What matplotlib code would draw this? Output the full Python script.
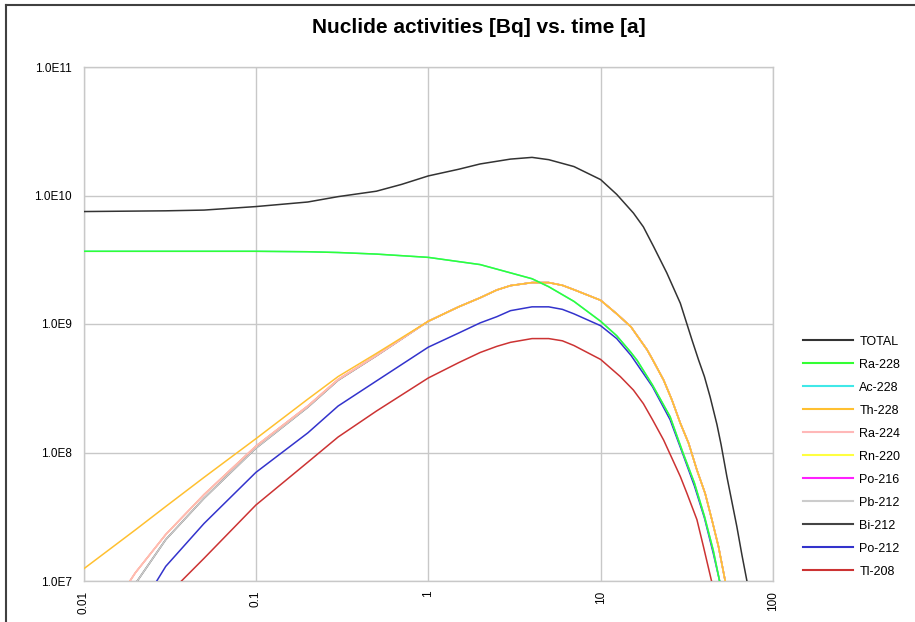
import numpy as np
import matplotlib
matplotlib.use("Agg")
import matplotlib.pyplot as plt
from matplotlib.ticker import FixedLocator, NullLocator
from matplotlib.lines import Line2D

plt.rcParams["font.family"] = ["Liberation Sans", "DejaVu Sans"]

# values (time in years, activity in Bq)
t_total = [0.01, 0.03, 0.05, 0.1, 0.2, 0.3, 0.5, 0.7, 1, 1.5, 2, 3, 4, 5, 7, 10, 12.4, 15.5,
           17.7, 20.3, 24.2, 29, 33.9, 37, 40, 43.2, 47.3, 50, 54, 61.7, 66, 70.6]
a_total = [7.5e9, 7.6e9, 7.7e9, 8.2e9, 8.9e9, 9.8e9, 1.08e10, 1.22e10, 1.42e10, 1.6e10,
           1.76e10, 1.92e10, 1.98e10, 1.9e10, 1.68e10, 1.33e10, 1.02e10, 7.3e9, 5.7e9, 4.0e9, 2.5e9,
           1.45e9, 7.5e8, 5.25e8, 3.9e8, 2.7e8, 1.65e8, 1.15e8, 6.5e7, 2.65e7, 1.6e7, 1.0e7]

t_ra228 = [0.01, 0.1, 0.2, 0.3, 0.5, 1, 2, 3, 4, 5, 7, 10, 12.4, 15, 16.3, 20, 25.3, 30, 35, 40, 45, 49]
a_ra228 = [3.68e9, 3.68e9, 3.65e9, 3.6e9, 3.5e9, 3.3e9, 2.9e9, 2.5e9, 2.25e9, 1.95e9, 1.5e9, 1.05e9,
           8.1e8, 6.0e8, 5.2e8, 3.35e8, 1.9e8, 1.0e8, 5.8e7, 3.2e7, 1.74e7, 1.0e7]
# Ac-228 lies under Ra-228 in the picture
t_ac228 = list(t_ra228)
a_ac228 = list(a_ra228)

t_th228 = [0.01, 0.02, 0.03, 0.05, 0.1, 0.2, 0.3, 0.5, 1, 1.5, 2, 2.5, 3, 4, 5, 6, 7, 10, 12.4, 15,
           16.2, 18.6, 20, 23.2, 25.9, 29, 32.4, 36.2, 40.4, 44.2, 48.3, 52.8]
a_th228 = [1.24e7, 2.5e7, 3.8e7, 6.4e7, 1.28e8, 2.6e8, 3.9e8, 5.9e8, 1.05e9, 1.36e9, 1.6e9, 1.84e9,
           1.99e9, 2.1e9, 2.1e9, 2.0e9, 1.85e9, 1.53e9, 1.2e9, 9.5e8, 8.2e8, 6.3e8, 5.3e8, 3.66e8,
           2.57e8, 1.69e8, 1.18e8, 7.3e7, 4.8e7, 3.0e7, 1.85e7, 1.0e7]

# Ra-224 (Rn-220, Po-216 hidden beneath it); merges with Th-228 from t = 1
t_ra224 = [0.0186, 0.02, 0.03, 0.05, 0.1, 0.2, 0.3, 0.5] + t_th228[8:]
a_ra224 = [1.0e7, 1.16e7, 2.3e7, 4.7e7, 1.12e8, 2.3e8, 3.7e8, 5.7e8] + a_th228[8:]

# Pb-212 (Bi-212 hidden beneath it); merges with Th-228 from t = 1
t_pb212 = [0.0205, 0.03, 0.05, 0.1, 0.2, 0.3, 0.5] + t_th228[8:]
a_pb212 = [1.0e7, 2.1e7, 4.4e7, 1.08e8, 2.25e8, 3.65e8, 5.65e8] + a_th228[8:]

t_po212 = [0.0266, 0.03, 0.05, 0.1, 0.2, 0.3, 0.5, 1, 1.5, 2, 2.5, 3, 4, 5, 6, 7, 10, 12.4, 15, 20,
           25.3, 30, 35, 40, 45, 49]
a_po212 = [1.0e7, 1.3e7, 2.8e7, 7.0e7, 1.42e8, 2.3e8, 3.6e8, 6.6e8, 8.5e8, 1.02e9, 1.14e9, 1.27e9,
           1.36e9, 1.36e9, 1.3e9, 1.2e9, 9.7e8, 7.7e8, 5.7e8, 3.25e8, 1.8e8, 9.7e7, 5.5e7, 3.1e7,
           1.65e7, 1.0e7]

t_tl208 = [0.037, 0.05, 0.1, 0.2, 0.3, 0.5, 1, 1.5, 2, 2.5, 3, 4, 5, 6, 7, 10, 13, 15.5, 17.7, 20,
           23.2, 29, 31.7, 36.2, 39.5, 44]
a_tl208 = [1.0e7, 1.5e7, 3.9e7, 8.4e7, 1.32e8, 2.1e8, 3.8e8, 5.0e8, 6.0e8, 6.7e8, 7.2e8, 7.7e8,
           7.7e8, 7.4e8, 6.8e8, 5.3e8, 3.9e8, 3.06e8, 2.4e8, 1.8e8, 1.25e8, 6.5e7, 4.8e7, 3.0e7,
           1.85e7, 1.0e7]

nuclides = ["TOTAL", "Ra-228", "Ac-228", "Th-228", "Ra-224", "Rn-220",
            "Po-216", "Pb-212", "Bi-212", "Po-212", "Tl-208"]
series = [(t_total, a_total), (t_ra228, a_ra228), (t_ac228, a_ac228), (t_th228, a_th228),
          (t_ra224, a_ra224), (t_ra224, a_ra224), (t_ra224, a_ra224), (t_pb212, a_pb212),
          (t_pb212, a_pb212), (t_po212, a_po212), (t_tl208, a_tl208)]
colors = ["#333333", "#33ff33", "#40e8e8", "#ffc030", "#ffb8b8", "#ffff40",
          "#ff20ff", "#cccccc", "#444444", "#3333cc", "#cc3333"]

x_ticks = [0.01, 0.1, 1, 10, 100]
x_labels = ["0.01", "0.1", "1", "10", "100"]
y_ticks = [1e7, 1e8, 1e9, 1e10, 1e11]
y_labels = ["1.0E7", "1.0E8", "1.0E9", "1.0E10", "1.0E11"]

fig = plt.figure(figsize=(9.15, 6.22), dpi=100)
ax = fig.add_axes([83.5 / 915, 1 - 581 / 622, (773 - 83.5) / 915, (581 - 67) / 622])

n = len(nuclides)
for i, (name, (t, a), c) in enumerate(zip(nuclides, series, colors)):
    ax.plot(t, a, color=c, lw=1.1, label=name, zorder=3 + (n - i))

ax.set_xscale("log")
ax.set_yscale("log")
ax.set_xlim(0.01, 100)
ax.set_ylim(1e7, 1e11)
ax.xaxis.set_major_locator(FixedLocator(x_ticks))
ax.yaxis.set_major_locator(FixedLocator(y_ticks))
ax.xaxis.set_minor_locator(NullLocator())
ax.yaxis.set_minor_locator(NullLocator())
ax.set_xticklabels(x_labels, rotation=90, fontsize=8.5)
ax.set_yticklabels(y_labels, fontsize=8.5)
ax.tick_params(length=0)
ax.tick_params(axis="y", pad=8.5)
ax.tick_params(axis="x", pad=7)
ax.grid(True, color="#c8c8c8", lw=1)
for s in ax.spines.values():
    s.set_color("#c8c8c8")
    s.set_linewidth(1)

fig.text(479 / 915, 1 - 33.3 / 622, "Nuclide activities [Bq] vs. time [a]",
         ha="center", va="baseline", fontsize=15, fontweight="bold")

handles = [Line2D([0], [0], color=c, lw=1.5) for c in colors]
fig.legend(handles, nuclides, loc="center left", bbox_to_anchor=(803 / 915, 1 - 456.7 / 622),
           frameon=False, fontsize=9, handlelength=4.0, handletextpad=0.5,
           labelspacing=0.88, borderpad=0, borderaxespad=0)

# window frame visible on the top and left edges
fig.add_artist(Line2D([6 / 915, 6 / 915], [0, 1 - 5 / 622], color="#404040", lw=1.5))
fig.add_artist(Line2D([6 / 915, 1], [1 - 5 / 622, 1 - 5 / 622], color="#404040", lw=1.5))

fig.savefig("out.png", dpi=100)
